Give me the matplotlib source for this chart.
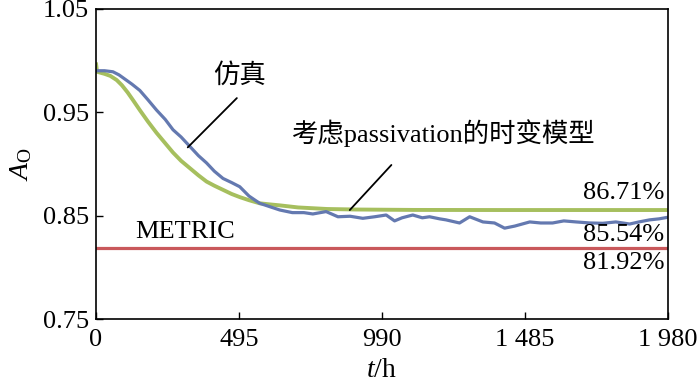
import matplotlib
matplotlib.use("Agg")
import matplotlib.pyplot as plt
import numpy as np

# Data
sim_t = [0, 30, 59, 80, 100, 125, 152, 180, 210, 240, 267, 295, 325, 355, 383, 410, 440, 470, 498,
         530, 567, 610, 637, 680, 720, 751, 797, 838,
         880, 924, 965, 1005, 1034, 1060, 1097, 1130, 1155, 1190, 1212, 1259, 1294, 1340, 1380, 1415,
         1450, 1502, 1540, 1581, 1620, 1663, 1710, 1755, 1800, 1848, 1880, 1917, 1950, 1980]
sim_v = [0.990, 0.990, 0.989, 0.986, 0.982, 0.977, 0.971, 0.962, 0.952, 0.943, 0.933, 0.926, 0.917,
         0.908, 0.901, 0.893, 0.886, 0.882, 0.878, 0.869, 0.862, 0.858,
         0.8555, 0.853, 0.853, 0.8517, 0.854, 0.849, 0.8495, 0.8475, 0.849, 0.8507, 0.845, 0.848,
         0.8507, 0.848, 0.849, 0.847, 0.846, 0.843, 0.849, 0.844, 0.843, 0.838, 0.840, 0.844, 0.843,
         0.843, 0.845, 0.844, 0.843, 0.8427, 0.844, 0.842, 0.844, 0.846, 0.847, 0.8485]

model_t = [0, 4, 30, 50, 72, 90, 110, 130, 152, 180, 210, 240, 267, 295, 325, 355, 383, 410, 440, 470,
           498, 530, 567, 600, 637, 700, 800, 900, 1100, 1400, 1700, 1980]
model_v = [0.998, 0.989, 0.987, 0.985, 0.981, 0.976, 0.969, 0.961, 0.952, 0.941, 0.930, 0.920, 0.911,
           0.903, 0.896, 0.889, 0.883, 0.879, 0.875, 0.871, 0.868, 0.865, 0.862, 0.861,
           0.860, 0.858, 0.8565, 0.856, 0.8556, 0.8555, 0.8555, 0.8555]

metric_t = [0, 1980]
metric_v = [0.8192, 0.8192]

xticks = [0, 495, 990, 1485, 1980]
xticklabels = ["0", "495", "990", "1 485", "1 980"]
yticks = [0.75, 0.85, 0.95, 1.05]
yticklabels = ["0.75", "0.85", "0.95", "1.05"]

plt.rcParams['font.family'] = ['Liberation Serif', 'Noto Sans CJK SC']
plt.rcParams['mathtext.fontset'] = 'custom'
plt.rcParams['mathtext.rm'] = 'Liberation Serif'
plt.rcParams['mathtext.it'] = 'Liberation Serif:italic'

fig = plt.figure(figsize=(7, 3.91), dpi=100)
ax = fig.add_axes([0.137, 0.1834, 0.817, 0.7946])

ax.plot(model_t, model_v, color='#a6bf5e', lw=2.8, solid_capstyle='butt')
ax.plot(sim_t, sim_v, color='#6479b0', lw=2.3)
ax.plot(metric_t, metric_v, color='#c9585b', lw=2.3)

ax.set_xlim(0, 1980)
ax.set_ylim(0.75, 1.05)
ax.set_xticks(xticks)
ax.set_xticklabels(xticklabels)
ax.set_yticks(yticks)
ax.set_yticklabels(yticklabels)
ax.tick_params(direction='in', length=5, width=1, labelsize=19, top=False, right=False, pad=5)
ax.tick_params(axis='x', pad=7)
for s in ax.spines.values():
    s.set_linewidth(1.2)

ax.set_xlabel(r'$t$/h', fontsize=20, labelpad=5)
ax.set_ylabel(r'$A_{\mathrm{O}}$', fontsize=20, labelpad=6)

ax.text(498, 0.986, '仿真', fontsize=19, ha='center', va='center')
ax.annotate('', xy=(318, 0.916), xytext=(488, 0.9636),
            arrowprops=dict(arrowstyle='-', color='black', lw=1.3, shrinkA=0, shrinkB=0))
ax.text(1204, 0.930, '考虑passivation的时变模型', fontsize=19, ha='center', va='center')
ax.annotate('', xy=(879, 0.8555), xytext=(1023, 0.899),
            arrowprops=dict(arrowstyle='-', color='black', lw=1.3, shrinkA=0, shrinkB=0))

ax.text(135, 0.834, 'METRIC', fontsize=19, ha='left', va='center')
ax.text(1969, 0.872, '86.71%', fontsize=19, ha='right', va='center')
ax.text(1969, 0.8314, '85.54%', fontsize=19, ha='right', va='center')
ax.text(1969, 0.8043, '81.92%', fontsize=19, ha='right', va='center')

fig.savefig('out.png', dpi=100)
